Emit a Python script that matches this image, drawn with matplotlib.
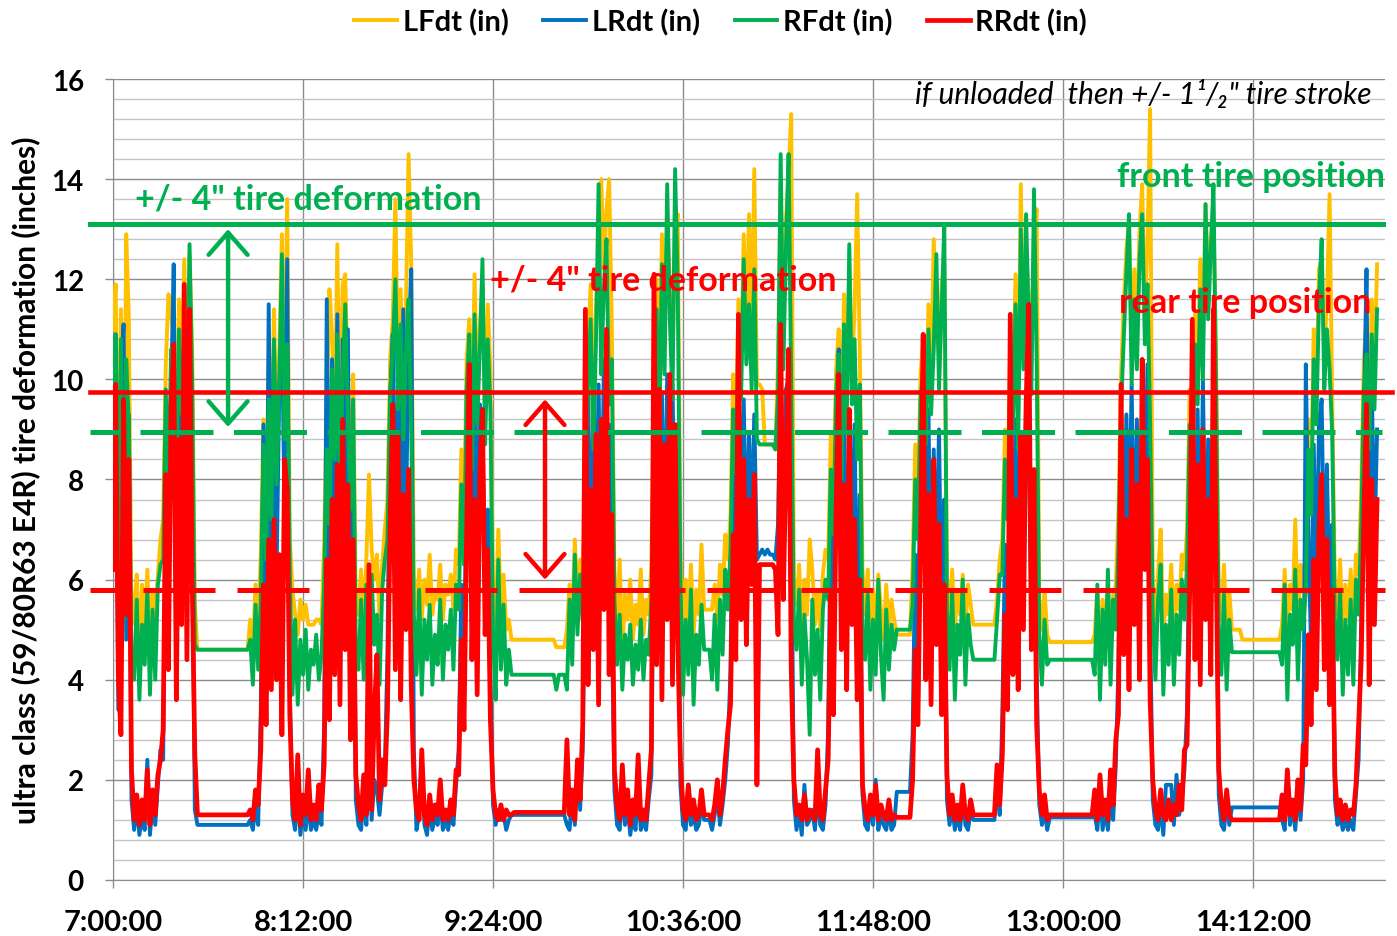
import numpy as np
import matplotlib
matplotlib.use("Agg")
import matplotlib.pyplot as plt
from matplotlib.ticker import MultipleLocator

plt.rcParams["font.family"] = ["Lato", "DejaVu Sans"]

# one sample per minute starting at 7:00:00
series_names = ["LFdt (in)", "LRdt (in)", "RFdt (in)", "RRdt (in)"]
series_colors = ["#FFC000", "#0070C0", "#00B050", "#FF0000"]

time_labels = ["7:00:00", "8:12:00", "9:24:00", "10:36:00", "11:48:00", "13:00:00", "14:12:00"]

# reference levels (inches)
front_tire_pos = 13.1
front_unloaded = 8.95
rear_tire_pos = 9.75
rear_unloaded = 5.8

lf_dt = (
    [11.0, 11.9, 7.1, 11.4, 6.0, 12.9, 11.2, 5.1]
    + [5.4, 6.1, 4.5, 5.9, 5.0, 6.2, 4.7, 5.8, 5.2, 6.1, 6.8]
    + [7.2, 10.3, 11.7, 11.3, 10.8, 9.0, 11.6, 10.1, 12.4, 9.5, 12.5, 10.6, 5.5]
    + [4.6] * 20
    + [5.2, 4.6, 5.9, 5.0]
    + [6.5, 9.2, 7.0, 10.3, 8.1, 11.4, 8.6, 10.5, 12.9, 9.4, 13.6, 6.8]
    + [5.8, 5.3, 4.9, 5.6, 5.2, 5.5, 5.1, 5.1, 5.1, 5.2, 5.2, 5.1]
    + [6.7, 9.5, 11.8, 10.9, 9.0, 12.7, 8.3, 11.9, 12.1, 9.8, 8.0, 10.1, 5.4]
    + [5.3, 6.2, 5.0, 6.4, 8.1, 6.6, 6.0, 6.5, 5.2, 6.3, 7.0]
    + [7.6, 10.4, 11.2, 13.6, 10.0, 11.8, 9.5, 11.4, 14.5, 12.3, 6.0]
    + [5.4, 6.2, 5.2, 6.0, 5.5, 6.5, 5.3, 5.8, 5.6, 6.3, 5.2, 5.9, 5.7, 6.1, 5.4, 6.6]
    + [6.3, 8.6, 7.1, 10.4, 11.2, 8.9, 12.1, 9.7, 11.0, 11.9, 9.3, 11.5, 10.2, 5.8]
    + [5.1, 7.0, 5.3, 6.1, 5.0, 5.2, 4.8]
    + [4.8] * 16 + [4.65] * 4
    + [5.0, 5.9, 5.2, 6.8, 5.6, 6.4, 6.0]
    + [9.0, 10.6, 11.9, 9.3, 11.4, 12.6, 14.0, 12.2, 13.4, 14.0, 11.1, 6.2]
    + [5.0, 6.4, 4.5, 5.7, 5.2, 6.0, 4.8, 5.5, 5.1, 6.2, 4.9, 5.6, 5.3, 6.3]
    + [9.8, 12.0, 9.4, 12.9, 10.7, 13.3, 11.8, 10.2, 13.0, 13.3, 6.6]
    + [5.1, 6.0, 5.0, 6.3, 4.9, 5.8, 5.3, 6.7, 5.4, 5.4, 5.4, 5.4, 5.9, 5.2, 6.3, 5.7, 6.9, 6.4]
    + [7.3, 10.1, 8.9, 11.6, 10.2, 12.9, 10.9, 13.3, 10.5, 14.2]
    + [9.9, 9.9, 9.8, 8.7, 8.7, 8.7, 8.7, 8.6]
    + [10.4, 13.9, 11.0, 13.2, 14.1, 15.3, 6.0]
    + [5.5, 6.3, 4.8, 6.0, 5.3, 6.8, 6.2, 5.1, 5.8, 5.0, 6.1, 6.6]
    + [6.4, 8.9, 7.6, 10.2, 11.0, 8.7, 11.7, 9.6, 12.2, 10.1, 11.4, 13.7, 10.5, 6.2]
    + [5.3, 6.2, 4.9, 5.8, 5.1, 6.1, 5.4, 4.8, 5.9, 5.0, 5.6, 5.2] + [4.9] * 6
    + [6.3, 8.7, 7.4, 10.1, 10.8, 9.2, 11.5, 9.9, 12.8, 11.2, 10.4, 11.9, 12.3, 6.1]
    + [5.2, 6.2, 5.0, 5.8, 5.3, 6.1, 5.0, 5.9, 5.5] + [5.1] * 9 + [5.6, 6.4]
    + [6.8, 9.0, 7.9, 10.7, 9.6, 12.1, 9.3, 13.9, 10.8, 12.6, 11.7, 10.3, 12.9, 13.4, 5.6]
    + [5.0, 5.8, 4.9] + [4.75] * 17
    + [4.9, 5.8, 4.8, 5.6, 5.0, 5.8, 4.9, 5.7, 5.9]
    + [7.4, 10.1, 11.5, 12.6, 13.1, 10.6, 12.2, 10.9, 13.0, 13.9, 11.3, 12.7, 15.4, 6.0]
    + [5.0, 6.1, 7.0, 4.9, 5.7, 5.3, 6.3, 5.0, 5.9, 5.4, 6.5, 6.2]
    + [7.0, 9.8, 8.9, 11.3, 10.1, 12.4, 10.7, 13.5, 11.9, 12.8, 13.2, 10.4, 5.8]
    + [5.2, 6.3, 4.9, 5.8, 5.0, 5.0, 5.0, 5.0] + [4.8] * 15
    + [5.1, 6.2, 4.9, 5.9, 5.4, 7.2, 5.0, 6.3, 5.8]
    + [6.5, 9.2, 8.0, 11.0, 9.7, 12.2, 12.4, 10.5, 11.6, 13.7, 9.6, 5.9]
    + [5.3, 6.4, 5.0, 5.9, 5.2, 6.2, 5.1, 6.5, 6.1]
    + [7.8, 10.4, 11.2, 9.2, 11.6, 10.1, 12.3]
)

lr_dt = (
    [7.4, 10.9, 3.4, 10.2, 11.1, 4.8, 9.3, 1.6]
    + [1.0, 1.5, 0.9, 1.3, 1.0, 2.4, 0.9, 1.6, 1.1, 1.9, 2.6]
    + [2.4, 7.9, 5.0, 9.7, 12.3, 4.1, 9.9, 6.2, 11.2, 5.8, 10.8, 7.3, 1.4]
    + [1.1] * 20
    + [1.2, 1.0, 1.5, 1.1]
    + [3.4, 9.1, 4.6, 11.5, 5.9, 10.7, 6.2, 9.8, 11.1, 7.4, 12.4, 3.8]
    + [1.3, 1.0, 1.8, 0.9, 1.4, 1.0, 1.6, 1.0, 1.2, 1.0, 1.4, 1.1]
    + [3.1, 11.6, 5.5, 10.4, 6.3, 11.3, 5.2, 10.8, 7.0, 11.0, 4.2, 8.5, 1.6]
    + [1.1, 1.0, 1.7, 1.1, 2.6, 1.2, 2.0, 1.8, 1.3, 1.9, 2.2]
    + [4.5, 9.6, 10.9, 6.1, 10.2, 5.7, 11.4, 7.2, 10.7, 12.2, 2.6]
    + [1.0, 1.3, 2.4, 1.1, 0.9, 1.5, 1.0, 1.3, 1.1, 1.6, 1.0, 1.2, 1.0, 1.4, 1.1, 1.9]
    + [2.6, 5.9, 4.1, 8.3, 9.8, 5.5, 10.3, 6.0, 9.5, 8.8, 5.9, 7.4, 4.1, 1.5]
    + [1.1, 1.4, 1.2, 1.3, 1.0, 1.2, 1.3]
    + [1.3] * 20
    + [1.1, 1.0, 1.7, 1.1, 2.3, 1.4, 2.6]
    + [6.8, 9.7, 5.1, 10.2, 6.5, 9.9, 5.8, 10.4, 7.3, 9.1, 5.2, 1.8]
    + [1.1, 1.0, 1.8, 1.1, 1.5, 0.9, 1.3, 1.0, 1.9, 1.0, 1.2, 1.0, 1.6, 2.1]
    + [7.6, 10.3, 5.9, 9.7, 6.4, 10.1, 5.5, 9.9, 6.8, 8.6, 1.9]
    + [1.1, 1.0, 1.6, 1.1, 1.3, 1.0, 1.1, 1.5, 1.2, 1.2, 1.2, 1.0, 1.3, 1.7, 1.1, 1.5, 2.0, 2.7]
    + [4.2, 8.8, 6.0, 10.1, 7.2, 9.6, 6.5, 8.9, 7.0, 9.3]
    + [6.4, 6.5, 6.6, 6.5, 6.6, 6.5, 6.5, 6.4]
    + [7.1, 10.3, 6.2, 9.8, 10.0, 7.5, 1.6]
    + [1.0, 1.4, 0.9, 1.9, 1.1, 1.2, 1.4, 1.0, 1.8, 1.1, 1.0, 1.5]
    + [3.0, 7.6, 4.7, 9.2, 10.6, 5.8, 9.7, 5.3, 8.9, 6.6, 9.1, 4.9, 7.7, 1.7]
    + [1.1, 1.0, 1.5, 1.1, 2.0, 1.0, 1.3, 1.1, 1.0, 1.4, 1.0, 1.1] + [1.76] * 6
    + [2.9, 6.5, 4.4, 8.9, 10.1, 5.7, 9.4, 5.1, 8.6, 6.3, 9.0, 4.8, 7.6, 1.6]
    + [1.1, 1.5, 1.0, 1.3, 1.0, 1.7, 1.1, 1.0, 1.4] + [1.2] * 9 + [1.9, 1.3]
    + [3.3, 6.7, 4.9, 8.1, 5.6, 9.2, 5.1, 8.8, 6.3, 9.6, 8.5, 5.4, 7.9, 4.2, 1.5]
    + [1.1, 1.4, 1.0] + [1.25] * 17
    + [1.3, 1.0, 1.8, 1.0, 1.4, 1.0, 1.7, 1.2, 2.3]
    + [4.3, 8.6, 6.1, 9.3, 6.9, 9.9, 6.0, 9.2, 5.7, 9.4, 7.2, 10.3, 5.1, 1.6]
    + [1.1, 1.0, 1.5, 0.9, 1.9, 1.9, 1.9, 1.1, 2.1, 1.3, 1.6, 2.2]
    + [3.4, 7.5, 9.8, 5.8, 9.4, 5.5, 10.0, 6.2, 8.8, 5.6, 10.1, 7.3, 1.7]
    + [1.1, 1.0, 1.6, 1.1, 1.45] + [1.45] * 18
    + [1.2, 1.0, 2.2, 1.1, 1.5, 1.0, 1.8, 1.2, 2.0]
    + [10.3, 6.8, 4.6, 8.7, 5.7, 9.1, 9.6, 5.9, 8.3, 5.2, 7.1, 1.6]
    + [1.1, 1.3, 1.0, 1.2, 1.0, 1.2, 1.0, 1.7, 2.4]
    + [5.2, 9.3, 12.2, 6.0, 9.9, 6.6, 9.0]
)

rf_dt = (
    [9.6, 10.9, 6.3, 10.8, 5.2, 10.4, 9.1, 4.3]
    + [4.0, 5.6, 3.6, 5.1, 4.3, 5.8, 3.7, 5.4, 4.0, 5.9, 6.3]
    + [6.4, 9.8, 7.6, 10.6, 10.2, 8.1, 11.0, 9.3, 10.8, 8.7, 12.7, 9.9, 4.7]
    + [4.6] * 20
    + [4.8, 3.9, 5.5, 4.2]
    + [5.6, 8.7, 6.4, 9.6, 7.2, 10.8, 7.9, 9.9, 12.5, 8.8, 10.7, 6.1]
    + [3.7, 5.2, 3.5, 4.8, 4.1, 5.0, 3.8, 4.6, 4.3, 4.9, 4.0, 4.5]
    + [5.9, 8.6, 7.1, 10.2, 8.4, 10.9, 7.7, 10.0, 11.5, 9.2, 7.4, 9.6, 4.6]
    + [4.2, 5.6, 4.0, 5.9, 4.4, 6.1, 4.7, 5.3, 3.9, 5.8, 6.4]
    + [6.8, 9.7, 10.6, 12.0, 9.4, 11.1, 8.8, 10.5, 11.6, 9.0, 5.3]
    + [4.1, 5.8, 3.7, 5.2, 4.4, 5.5, 3.9, 4.9, 4.3, 5.6, 4.0, 5.1, 4.6, 5.4, 4.2, 5.9]
    + [5.4, 7.9, 6.3, 9.8, 10.9, 8.2, 11.3, 9.1, 10.6, 12.4, 8.7, 10.8, 9.4, 4.9]
    + [3.6, 6.4, 4.2, 5.5, 3.9, 4.6, 4.1]
    + [4.1] * 16 + [3.8, 4.1, 4.1, 4.1]
    + [3.8, 5.6, 4.3, 6.5, 4.9, 6.1, 5.2]
    + [8.3, 9.9, 11.2, 8.6, 10.7, 13.9, 10.1, 11.8, 12.8, 9.5, 10.4, 5.6]
    + [4.3, 5.3, 3.8, 4.9, 4.4, 5.1, 3.9, 4.7, 4.2, 5.2, 4.0, 4.8, 4.5, 5.6]
    + [9.2, 11.4, 8.8, 12.3, 10.1, 13.9, 11.2, 9.6, 14.2, 11.8, 6.0]
    + [3.7, 5.2, 4.1, 5.8, 3.5, 4.9, 4.3, 5.5, 4.6, 4.6, 4.6, 4.0, 5.3, 3.8, 5.6, 4.5, 6.2, 5.4]
    + [6.6, 9.4, 8.1, 11.0, 9.6, 12.4, 10.3, 11.5, 9.8, 12.2]
    + [8.8, 8.7, 8.7, 8.7, 8.7, 8.7, 8.7, 8.6]
    + [9.7, 14.5, 10.2, 12.6, 14.5, 9.9, 5.2]
    + [4.6, 5.8, 3.9, 5.3, 4.4, 2.9, 5.6, 4.1, 5.0, 3.6, 5.4, 6.0]
    + [5.6, 8.2, 6.9, 9.7, 10.5, 8.0, 11.1, 9.0, 12.7, 9.5, 10.8, 8.4, 9.9, 5.0]
    + [4.4, 5.7, 3.8, 5.2, 4.1, 6.0, 4.5, 3.6, 5.4, 4.2, 5.1, 4.6] + [5.0] * 6
    + [5.5, 8.0, 6.8, 9.6, 10.2, 8.7, 11.0, 9.3, 10.6, 12.5, 9.8, 11.4, 13.1, 5.4]
    + [4.2, 5.8, 3.6, 5.1, 4.5, 6.0, 3.9, 5.3, 4.7] + [4.4] * 9 + [5.2, 6.1]
    + [6.1, 8.4, 7.2, 10.1, 9.0, 11.5, 8.6, 13.0, 10.2, 13.3, 11.1, 9.7, 13.8, 10.4, 4.9]
    + [3.9, 5.2, 4.3] + [4.4] * 17
    + [4.1, 5.9, 3.6, 5.4, 4.3, 6.2, 3.9, 5.6, 5.0]
    + [6.7, 9.4, 10.8, 12.1, 13.3, 9.9, 11.6, 10.2, 12.4, 13.3, 10.7, 11.9, 9.1, 5.3]
    + [4.0, 5.6, 6.3, 3.7, 5.1, 4.3, 5.8, 3.9, 5.3, 4.5, 6.0, 5.2]
    + [6.3, 9.1, 8.2, 10.7, 9.5, 11.8, 10.0, 13.5, 11.2, 12.6, 13.9, 9.8, 5.1]
    + [4.1, 5.7, 3.8, 5.2, 4.55] + [4.55] * 18
    + [4.3, 5.9, 3.6, 5.3, 4.7, 6.2, 4.0, 5.6, 5.0]
    + [5.8, 8.6, 7.3, 10.4, 9.1, 11.6, 12.8, 9.8, 11.0, 10.2, 8.9, 5.2]
    + [4.4, 5.8, 3.7, 5.2, 4.1, 5.6, 3.9, 6.0, 5.3]
    + [7.1, 9.8, 10.5, 8.6, 10.9, 9.4, 11.4]
)

rr_dt = (
    [6.2, 9.9, 4.1, 2.9, 9.6, 5.3, 8.4, 2.2]
    + [1.2, 1.7, 1.1, 1.6, 1.2, 2.2, 1.1, 1.8, 1.3, 2.1, 2.4]
    + [3.0, 8.1, 4.2, 9.5, 10.7, 3.6, 8.8, 5.1, 11.9, 4.4, 11.4, 6.0, 2.5]
    + [1.3] * 20
    + [1.4, 1.2, 1.8, 1.5]
    + [2.6, 5.9, 3.1, 6.8, 3.8, 7.2, 4.0, 6.5, 2.9, 8.4, 7.8, 3.3]
    + [1.6, 1.2, 2.5, 1.1, 1.7, 1.3, 2.2, 1.2, 1.5, 1.2, 1.9, 1.4]
    + [2.3, 6.4, 3.2, 7.6, 4.1, 8.3, 3.5, 9.2, 4.6, 7.9, 2.8, 6.8, 2.1]
    + [1.5, 1.2, 2.1, 1.3, 6.3, 1.4, 3.3, 4.5, 1.6, 2.4, 1.9]
    + [3.4, 7.1, 9.5, 4.2, 8.9, 3.6, 7.7, 5.0, 8.2, 3.9, 2.0]
    + [1.4, 1.2, 2.6, 1.3, 1.1, 1.7, 1.2, 1.5, 1.3, 2.0, 1.2, 1.4, 1.2, 1.6, 1.3, 2.2]
    + [2.1, 4.8, 3.0, 6.9, 10.3, 4.4, 7.6, 3.7, 8.1, 9.4, 4.9, 6.6, 3.2, 1.8]
    + [1.3, 1.2, 1.5, 1.2, 1.4, 1.3, 1.3]
    + [1.35] * 20
    + [2.8, 1.3, 1.8, 1.2, 2.4, 1.6, 3.1]
    + [11.4, 3.9, 7.8, 4.6, 8.9, 3.5, 9.2, 5.4, 11.0, 4.1, 7.3, 2.2]
    + [1.5, 1.2, 2.3, 1.3, 1.8, 1.1, 1.6, 1.3, 2.5, 1.2, 1.4, 1.2, 1.9, 2.6]
    + [12.1, 4.3, 9.8, 3.6, 8.7, 5.2, 10.1, 3.9, 9.1, 4.8, 2.4]
    + [1.4, 1.2, 1.9, 1.3, 1.6, 1.2, 1.3, 1.8, 1.3, 1.3, 1.3, 1.2, 1.5, 2.0, 1.3, 1.7, 2.4, 3.0]
    + [3.5, 6.9, 4.4, 11.3, 5.2, 8.4, 4.7, 7.6, 5.9, 8.1]
    + [1.9, 6.3, 6.3, 6.3, 6.3, 6.3, 6.3, 6.2]
    + [4.9, 11.1, 5.6, 8.3, 10.6, 4.2, 2.0]
    + [1.3, 1.5, 1.2, 1.7, 1.2, 1.4, 1.3, 1.2, 2.6, 1.3, 1.2, 1.8]
    + [2.4, 5.7, 3.3, 7.4, 10.1, 4.6, 7.9, 3.8, 9.4, 5.1, 7.2, 3.6, 6.0, 1.9]
    + [1.4, 1.2, 1.7, 1.3, 1.9, 1.2, 1.5, 1.3, 1.2, 1.6, 1.2, 1.3] + [1.25] * 6
    + [2.0, 4.6, 3.1, 6.8, 10.9, 4.0, 7.7, 3.5, 8.4, 4.7, 7.1, 3.3, 5.9, 2.1]
    + [1.3, 1.7, 1.2, 1.5, 1.2, 1.9, 1.3, 1.2, 1.6] + [1.3] * 9 + [2.3, 1.5]
    + [2.5, 5.3, 3.4, 11.3, 4.1, 7.6, 3.8, 8.9, 5.0, 9.5, 11.5, 4.6, 8.2, 3.1, 1.8]
    + [1.3, 1.7, 1.2] + [1.3] * 17
    + [1.8, 1.2, 2.1, 1.3, 1.6, 1.2, 2.2, 1.5, 2.8]
    + [3.3, 9.9, 4.5, 7.2, 3.8, 8.6, 5.1, 7.9, 4.0, 10.4, 6.2, 8.4, 3.6, 2.0]
    + [1.4, 1.2, 1.8, 1.3, 1.2, 1.6, 1.2, 1.5, 1.3, 1.9, 1.4, 2.6]
    + [2.7, 5.8, 11.2, 4.4, 8.3, 3.9, 9.0, 5.2, 7.6, 4.1, 11.4, 6.5, 2.2]
    + [1.5, 1.2, 1.8, 1.3, 1.2] + [1.2] * 18
    + [1.7, 1.2, 2.2, 1.3, 1.6, 1.2, 2.0, 1.4, 2.7]
    + [2.3, 4.9, 3.1, 6.4, 3.8, 7.0, 8.1, 4.2, 6.8, 3.5, 5.7, 2.1]
    + [1.3, 1.6, 1.2, 1.5, 1.2, 1.4, 1.3, 1.9, 3.1]
    + [4.4, 7.3, 9.5, 3.9, 8.0, 5.1, 7.6]
)


def clock_to_minutes(label):
    h, m, s = (int(p) for p in label.split(":"))
    return h * 60 + m + s / 60 - 7 * 60


fig = plt.figure(figsize=(13.97, 9.37), dpi=100)
ax = fig.add_axes([0.0809, 0.0598, 0.9105, 0.8548])

handles = []
for values, name, color in zip([lf_dt, lr_dt, rf_dt, rr_dt], series_names, series_colors):
    minutes = np.arange(len(values))
    lw = 3.4 if color == "#FF0000" else 2.8
    (line,) = ax.plot(minutes, values, color=color, lw=lw, label=name, zorder=3)
    handles.append(line)

ax.set_xlim(0, 482)
ax.set_ylim(0, 16)

# grid: vertical at every time label, horizontal every 2 with light minors every 0.4
ticks = [clock_to_minutes(t) for t in time_labels]
ax.set_xticks(ticks)
ax.set_xticklabels(time_labels, fontsize=21, fontweight="bold")
ax.yaxis.set_major_locator(MultipleLocator(2))
ax.yaxis.set_minor_locator(MultipleLocator(0.4))
for lab in ax.get_yticklabels():
    lab.set_fontsize(20)
    lab.set_fontweight("bold")
ax.grid(which="major", axis="both", color="#8c8c8c", lw=1.0)
ax.grid(which="minor", axis="y", color="#c4c4c4", lw=1.0)
ax.set_axisbelow(True)
ax.tick_params(axis="both", which="major", direction="out", length=6, width=1,
               color="#8c8c8c")
ax.tick_params(axis="x", pad=15)
ax.tick_params(axis="y", pad=15)
ax.tick_params(axis="y", which="minor", length=0)
for side in ["top", "right"]:
    ax.spines[side].set_visible(False)
for side in ["left", "bottom"]:
    ax.spines[side].set_color("#8c8c8c")

fig.text(26 / 1397, 1 - 480 / 937, "ultra class (59/80R63 E4R) tire deformation (inches)",
         rotation=90, ha="center", va="center", fontsize=21.5, fontweight="bold")

# tire position guides (solid = loaded level, dashed = unloaded level)
tr = ax.get_yaxis_transform()
ax.plot([-0.018, 0.9984], [front_tire_pos] * 2, color="#00B050", lw=3.6,
        transform=tr, clip_on=False, zorder=5)
ax.plot([-0.018, 1.0055], [rear_tire_pos] * 2, color="#FF0000", lw=3.3,
        transform=tr, clip_on=False, zorder=5)
ax.plot([-0.018, 0.998], [front_unloaded] * 2, color="#00B050", lw=3.6,
        ls=(8.7, (14.6, 4.1)), transform=tr, clip_on=False, zorder=5)
ax.plot([-0.018, 1.0], [rear_unloaded] * 2, color="#FF0000", lw=3.6,
        ls=(8.2, (14.4, 4.4)), transform=tr, clip_on=False, zorder=5)

arrow_kw = dict(arrowstyle="<->,head_length=0.8,head_width=0.7", lw=3.2,
                mutation_scale=20, shrinkA=0, shrinkB=0)
ax.annotate("", xy=(43.6, 13.0), xytext=(43.6, 9.05),
            arrowprops=dict(color="#00B050", **arrow_kw), zorder=6)
ax.annotate("", xy=(163.7, 9.6), xytext=(163.7, 6.0),
            arrowprops=dict(color="#FF0000", **arrow_kw), zorder=6)

ax.text(8.3, 13.62, "+/- 4\" tire deformation", color="#00B050", fontsize=24.5,
        fontweight="bold", ha="left", va="center", zorder=7)
ax.text(142.9, 11.99, "+/- 4\" tire deformation", color="#FF0000", fontsize=24.5,
        fontweight="bold", ha="left", va="center", zorder=7)
ax.text(482, 14.06, "front tire position", color="#00B050", fontsize=24.5,
        fontweight="bold", ha="right", va="center", zorder=7, clip_on=False)
ax.text(477, 11.55, "rear tire position", color="#FF0000", fontsize=24.5,
        fontweight="bold", ha="right", va="center", zorder=7)
ax.text(477, 15.72, "if unloaded  then +/- 1\u00b9/\u2082\" tire stroke", color="black",
        fontsize=21.5, style="italic", ha="right", va="center", zorder=7)

fig.legend(handles, series_names, loc="center", bbox_to_anchor=(0.516, 1 - 23 / 937),
           ncol=4, frameon=False, handlelength=1.45, handletextpad=0.2,
           columnspacing=1.2, prop={"weight": "bold", "size": 21})

fig.savefig("out.png", dpi=100)
